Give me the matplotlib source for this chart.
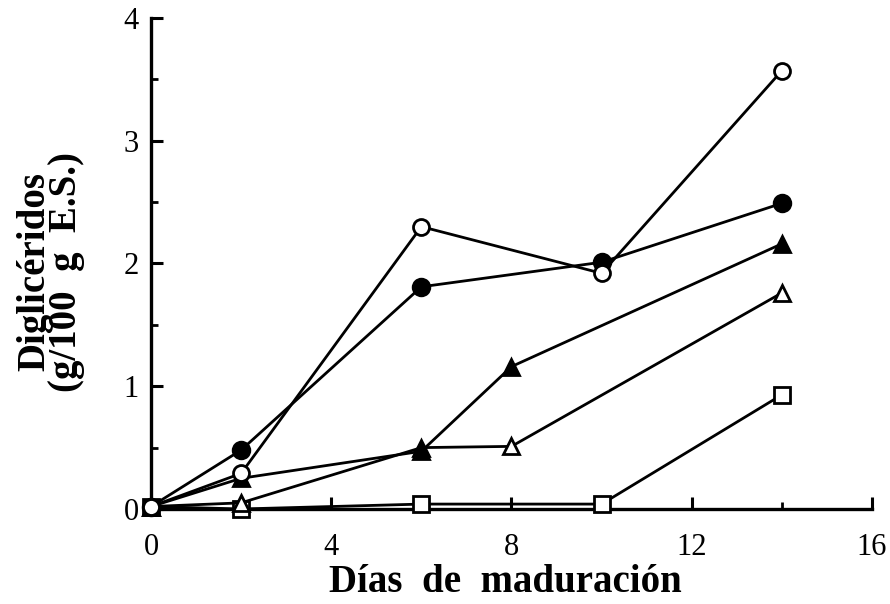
import matplotlib
matplotlib.use("Agg")
import matplotlib.pyplot as plt
from matplotlib.ticker import MultipleLocator

plt.rcParams["font.family"] = ["Liberation Serif", "DejaVu Serif"]

# dias de maduracion y diglicéridos (g/100 g E.S.)
x_circ_open = [0, 2, 6, 10, 14]
y_circ_open = [0.02, 0.29, 2.30, 1.92, 3.57]

x_circ_fill = [0, 2, 6, 10, 14]
y_circ_fill = [0.02, 0.48, 1.81, 2.01, 2.49]

x_tri_fill = [0, 2, 6, 8, 14]
y_tri_fill = [0.02, 0.25, 0.47, 1.16, 2.16]

x_tri_open = [0, 2, 6, 8, 14]
y_tri_open = [0.02, 0.05, 0.50, 0.51, 1.76]

x_sq_open = [0, 2, 6, 10, 14]
y_sq_open = [0.02, 0.0, 0.04, 0.04, 0.93]

fig = plt.figure(figsize=(8.9, 6.04), dpi=100)
ax = fig.add_axes([0.1697, 0.1573, 0.810, 0.813])

series = [
    (x_sq_open, y_sq_open, "s", "white", 11),
    (x_tri_open, y_tri_open, "^", "white", 11),
    (x_tri_fill, y_tri_fill, "^", "black", 11),
    (x_circ_fill, y_circ_fill, "o", "black", 12),
    (x_circ_open, y_circ_open, "o", "white", 11.5),
]
for xs, ys, m, fc, ms in series:
    ax.plot(xs, ys, color="black", lw=2.0, marker=m, markersize=ms,
            markerfacecolor=fc, markeredgecolor="black", markeredgewidth=2.0,
            clip_on=False, zorder=3)

ax.set_xlim(0, 16)
ax.set_ylim(0, 4)
ax.xaxis.set_major_locator(MultipleLocator(4))
ax.xaxis.set_minor_locator(MultipleLocator(2))
ax.yaxis.set_major_locator(MultipleLocator(1))
ax.yaxis.set_minor_locator(MultipleLocator(0.5))

ax.spines["top"].set_visible(False)
ax.spines["right"].set_visible(False)
ax.spines["left"].set_linewidth(2.4)
ax.spines["bottom"].set_linewidth(2.4)

ax.tick_params(which="major", direction="in", length=8.5, width=2.2, labelsize=22)
ax.tick_params(axis="x", which="major", pad=17)
ax.tick_params(axis="y", which="major", pad=9)
ax.tick_params(which="minor", direction="in", length=5, width=2.0)

ax.set_xlabel("Días  de  maduración", fontsize=28, fontweight="bold")
ax.xaxis.set_label_coords(0.491, -0.113)
ax.set_ylabel("Diglicéridos\n(g/100  g  E.S.)", fontsize=28, fontweight="bold",
              linespacing=0.8)
ax.yaxis.set_label_coords(-0.092, 0.483)

fig.savefig("out.png", dpi=100)
